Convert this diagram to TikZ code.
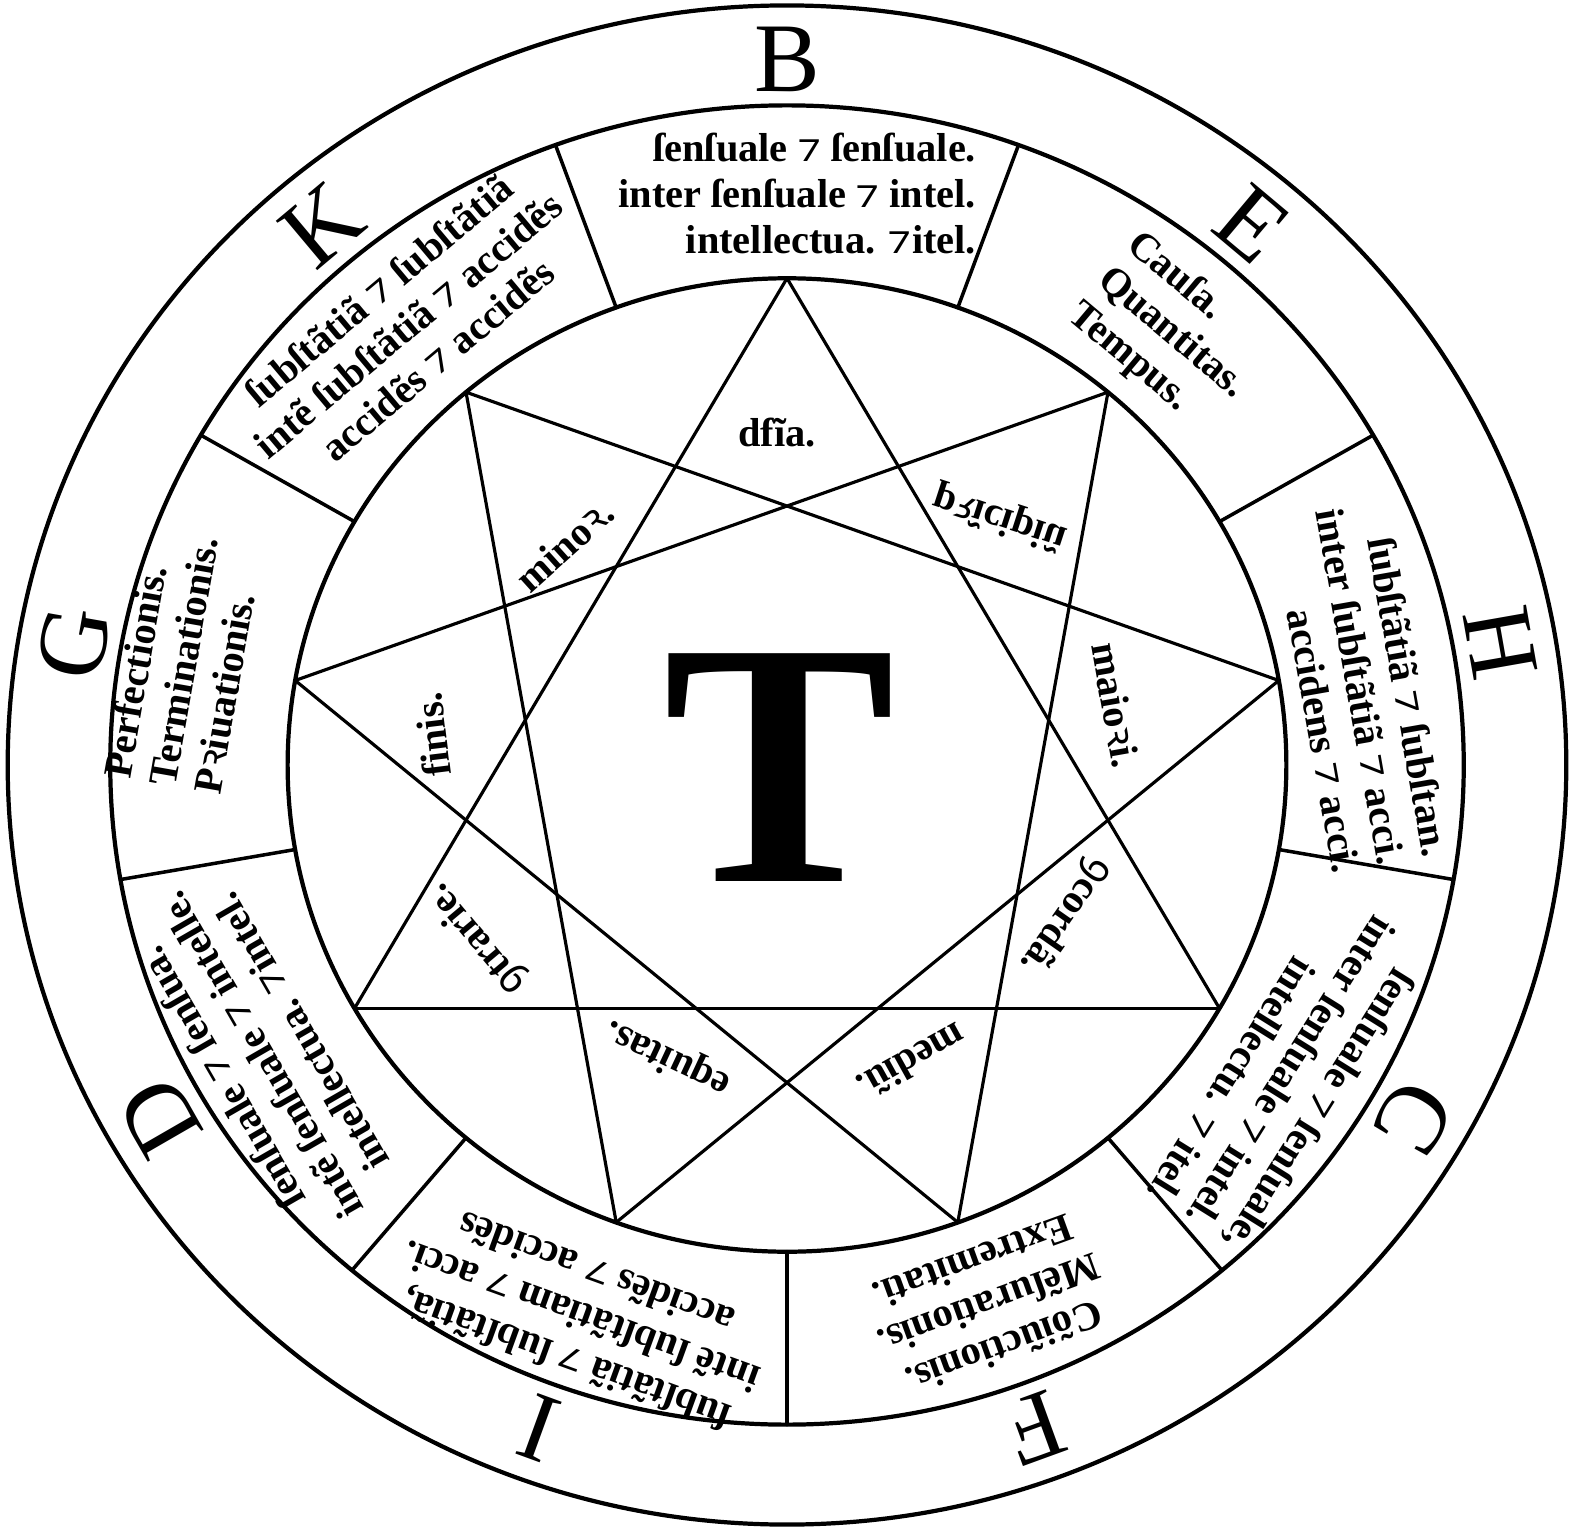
\documentclass[tikz,border=0pt]{standalone}
\usepackage{fontspec}
\usepackage{tikz}
\usetikzlibrary{calc}
\setmainfont{Liberation Serif}
\newfontfamily\glyphfont{Noto Sans}
\newcommand{\et}{{\glyphfont\bfseries ⁊}}
\newcommand{\rrot}{{\glyphfont\bfseries ꝛ}}
\newcommand{\con}{{\glyphfont\bfseries ꝯ}}
\newcommand{\boxfont}{\fontsize{11.5}{13}\selectfont\bfseries}

\begin{document}
\begin{tikzpicture}[x=0.01025cm,y=0.01cm,line cap=round]
  \tikzstyle{ring}=[line width=1.2pt]
  \tikzstyle{rule}=[line width=1pt]
  \tikzstyle{starline}=[line width=0.9pt]
  \tikzstyle{ringletter}=[font=\fontsize{28}{28}\selectfont,inner sep=0pt]
  \tikzstyle{boxtext}=[font=\boxfont,inner sep=0pt]
  \tikzstyle{starword}=[font=\boxfont,inner sep=0pt]
  \useasboundingbox (-7.87cm,-7.65cm) rectangle (7.87cm,7.65cm);
  \coordinate (centre) at (0,0);
  % three rings
  \draw[ring] (centre) circle [radius=760];
  \draw[ring] (centre) circle [radius=660];
  \draw[ring] (centre) circle [radius=487];
  % nine cells
  \foreach \a in {110,70,30,-10,-50,-90,-130,-170,150}
    \draw[rule] (\a:487) -- (\a:660);
  % the three triangles
  \foreach \k in {0,...,8}
    \coordinate (v\k) at ({90-40*\k}:487);
  \foreach \k [evaluate=\k as \j using {int(mod(\k+3,9))}] in {0,...,8}
    \draw[starline] (v\k) -- (v\j);
  % letters of the outer ring
  \foreach \l/\a in {B/90,E/50,H/10,C/-30,F/-70,I/-110,D/-150,G/170,K/130}
    \node[ringletter,rotate=\a-90] (l\l) at (\a:706) {\l};
  \node[font=\fontsize{99}{99}\selectfont\bfseries,inner sep=0pt] (tee) at (-7,-3) {T};
  % cells
  \node[boxtext,align=right] (cellB) at (89:572) {ſenſuale \et\ ſenſuale.\\inter ſenſuale \et\ intel.\\intellectua. \et{}itel.};
  \node[boxtext,align=left,rotate=-40] (cellE) at (49:572) {Cauſa.\\Quantitas.\\Tempus.};
  \node[boxtext,align=right,rotate=-80] (cellH) at (8:565) {ſubſtãtiã \et\ ſubſtan.\\inter ſubſtãtiã \et\ acci.\\accidens \et\ acci.};
  \node[boxtext,align=right,rotate=-122] (cellC) at (-32:580) {ſenſuale \et\ ſenſuale,\\inter ſenſuale \et\ intel.\\intellectu. \et\ itel.};
  \node[boxtext,align=center,rotate=-160] (cellF) at (-70:575) {Cõiũctionis.\\Mẽſurationis.\\Extremitati.};
  \node[boxtext,align=center,rotate=160] (cellI) at (-110:588) {ſubſtãtiã \et\ ſubſtãtiã,\\intẽ ſubſtãtiam \et\ acci.\\accidẽs \et\ accidẽs};
  \node[boxtext,align=center,rotate=120] (cellD) at (-150.5:590) {ſenſuale \et\ ſenſua.\\intẽ ſenſuale \et\ intelle.\\intellectua. \et{}intel.};
  \node[boxtext,align=left,rotate=80] (cellG) at (170:598) {Perfectionis.\\Terminationis.\\P\rrot iuationis.};
  \node[boxtext,align=center,rotate=40] (cellK) at (130:575) {ſubſtãtiã \et\ ſubſtãtiã\\intẽ ſubſtãtiã \et\ accidẽs\\accidẽs \et\ accidẽs};
  % words inside the triangles
  \node[starword] (wB) at (91.7:333) {dfĩa.};
  \node[starword,rotate=-18,yscale=-1] (wE) at (50:323) {p\rrot ĩcipiũ};
  \node[starword,rotate=-80] (wH) at (10.6:326) {maio\rrot i.};
  \node[starword,rotate=-125] (wC) at (-29:310) {\con cordã.};
  \node[starword,rotate=-151] (wF) at (-67.7:321) {mediũ.};
  \node[starword,rotate=155] (wI) at (-111.6:315) {equitas.};
  \node[starword,rotate=130] (wD) at (-150:348) {\con trarie.};
  \node[starword,rotate=97] (wG) at (175:347) {finis.};
  \node[starword,rotate=42] (wK) at (134.6:309) {mino\rrot.};
\end{tikzpicture}
\end{document}
